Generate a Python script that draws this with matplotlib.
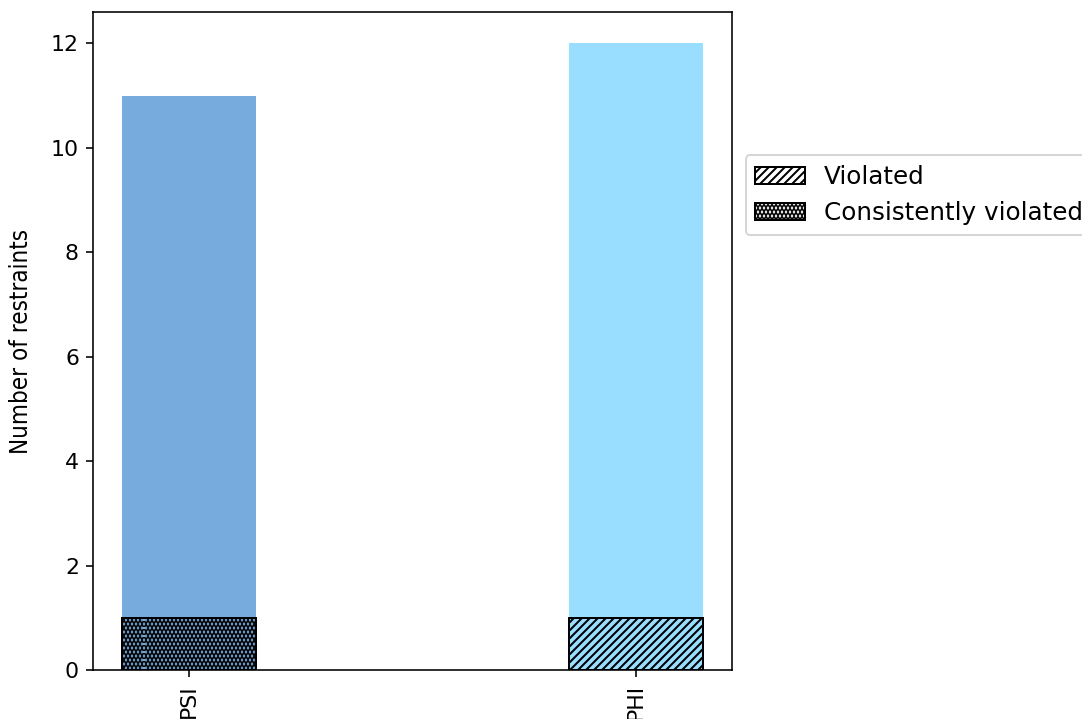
import matplotlib
matplotlib.use("Agg")
import matplotlib.pyplot as plt
from matplotlib.patches import Patch

# restraint categories and counts
categories = ["PSI", "PHI"]
total = [11, 12]
violated = [0, 1]
consistently_violated = [1, 0]
bar_colors = ["#77AADD", "#99DDFF"]

dpi = 144
fig = plt.figure(figsize=(1082 / dpi, 719 / dpi), dpi=dpi)
ax = fig.add_axes([93 / 1082, 1 - 670 / 719, (732 - 93) / 1082, (670 - 12) / 719])

x = list(range(len(categories)))
ax.bar(x, total, width=0.3, color=bar_colors)
# hatched bottoms for violated restraints
ax.bar(x, violated, width=0.3, color=bar_colors, hatch="//////", edgecolor="black", lw=1.0)
with plt.rc_context({"hatch.linewidth": 2.6}):
    ax.bar(x, consistently_violated, width=0.3, color=bar_colors, hatch="......", edgecolor="black", lw=1.0)
for p in ax.patches[len(categories):]:
    if p.get_height() == 0:
        p.set_visible(False)

ax.set_xticks(x)
ax.set_xticklabels(categories, rotation=90, fontsize=11)
ax.tick_params(axis="y", labelsize=11)
ax.set_ylabel("Number of restraints", fontsize=12, fontstretch="condensed", labelpad=9)

handles = [Patch(facecolor="white", edgecolor="black", hatch="//////", label="Violated"),
           Patch(facecolor="white", edgecolor="black", hatch="......", label="Consistently violated")]
with plt.rc_context({"hatch.linewidth": 2.6}):
    leg = ax.legend(handles=handles, loc="upper left", bbox_to_anchor=(1.002, 0.801), fontsize=12.3)
for patch in leg.get_patches()[:1]:
    if hasattr(patch, "set_hatch_linewidth"):
        patch.set_hatch_linewidth(1.0)

fig.savefig("out.png", dpi=dpi)
